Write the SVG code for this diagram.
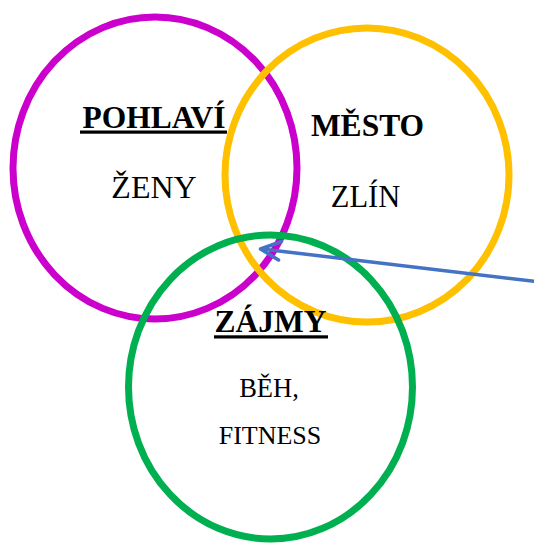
<svg xmlns="http://www.w3.org/2000/svg" width="534" height="543" viewBox="0 0 534 543">
<style>
.c{fill:none;stroke-width:7}
.t{font-family:"Liberation Serif","Times New Roman",serif;fill:#000;text-anchor:middle}
.b{font-weight:bold}
</style>
<rect width="534" height="543" fill="#fff"/>
<g id="pohlavi">
<ellipse class="c" cx="155" cy="168" rx="142" ry="151" stroke="#CC00CC"/>
</g>
<g id="mesto">
<ellipse class="c" cx="367" cy="175" rx="142" ry="147" stroke="#FFC000"/>
</g>
<g id="zajmy">
<ellipse class="c" cx="270.5" cy="387" rx="142" ry="152" stroke="#00B050"/>
</g>
<g id="labels">
<text class="t b" x="154" y="127.5" font-size="31.5">POHLAVÍ</text>
<rect x="80" y="130.5" width="147" height="3.2" fill="#000"/>
<text class="t" x="154" y="198" font-size="32">ŽENY</text>
<text class="t b" x="367.5" y="136" font-size="31.5">MĚSTO</text>
<text class="t" x="365.5" y="206.5" font-size="30.5">ZLÍN</text>
<text class="t b" x="270.5" y="331.5" font-size="31.5">ZÁJMY</text>
<rect x="214" y="335.3" width="114" height="3.2" fill="#000"/>
<text class="t" x="269" y="397" font-size="26.5">BĚH,</text>
<text class="t" x="270" y="444" font-size="26">FITNESS</text>
</g>
<g id="connectors" stroke="#4472C4" stroke-width="3.5" fill="none" stroke-linecap="round" stroke-linejoin="round">
<line x1="536" y1="281.5" x2="262" y2="249"/>
<polyline points="281.5,241.5 260.5,249 278.5,260"/>
</g>
</svg>
